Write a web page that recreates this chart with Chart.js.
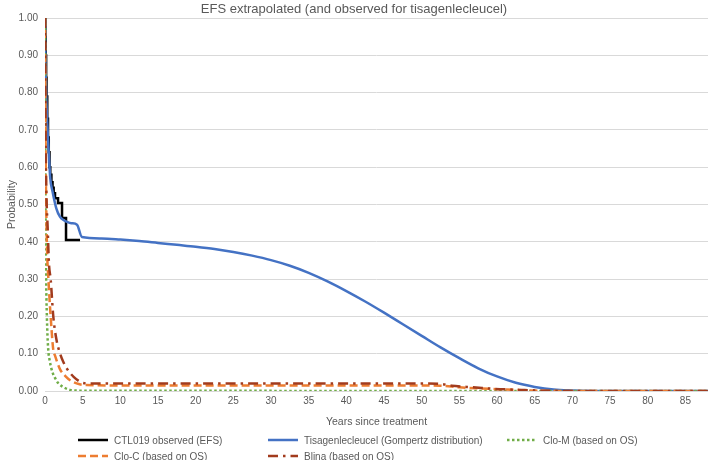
<!DOCTYPE html>
<html>
<head>
<meta charset="utf-8">
<script src="https://cdn.jsdelivr.net/npm/chart.js@4.4.1/dist/chart.umd.min.js"></script>
<style>
	body { margin: 0; background: #fff; }
	#wrap { position: relative; width: 709px; height: 460px; }
	#legend { position: absolute; left: 0; top: 0; width: 709px; height: 460px; pointer-events: none;
		font: 10px "Liberation Sans", Arial, sans-serif; color: #595959; }
	.item { position: absolute; display: flex; align-items: center; white-space: nowrap; }
	.item canvas { margin-right: 6px; }
</style>
</head>
<body>
<div id="wrap">
	<canvas id="efsChart" width="709" height="460"></canvas>
	<div id="legend"></div>
</div>
<script>
// ---- data ----
const seriesLabels = [
	"CTL019 observed (EFS)",
	"Tisagenlecleucel (Gompertz distribution)",
	"Clo-M (based on OS)",
	"Clo-C (based on OS)",
	"Blina (based on OS)"
];

// CTL019 observed KM steps
const ctlYears = [0, 0.05, 0.1, 0.15, 0.2, 0.3, 0.4, 0.5, 0.6, 0.7, 0.85, 1.0, 1.15, 1.33, 1.73, 2.26, 2.79, 4.65];
const ctlProb = [1, 0.95, 0.9, 0.84, 0.79, 0.73, 0.68, 0.64, 0.6, 0.58, 0.56, 0.545, 0.53, 0.517, 0.504, 0.464, 0.405, 0.405];

// Tisagenlecleucel (Gompertz)
const tisYears = [0, 0.05, 0.15, 0.3, 0.5, 0.7, 1, 1.5, 2, 2.5, 3, 3.5, 4.25, 4.9, 7.5, 10, 12.5, 15, 17.5, 20, 22.5, 25, 27.5, 30, 32.5, 35, 37.5, 40, 42.5, 45, 47.5, 50, 52.5, 55, 57.5, 60, 62.5, 65, 67.5, 70, 72.5, 75, 88];
const tisProb = [1, 0.9, 0.8, 0.72, 0.64, 0.57, 0.535, 0.49, 0.467, 0.458, 0.453, 0.45, 0.446, 0.413, 0.409, 0.406, 0.402, 0.397, 0.392, 0.387, 0.381, 0.373, 0.363, 0.351, 0.336, 0.317, 0.294, 0.268, 0.240, 0.210, 0.179, 0.148, 0.117, 0.088, 0.061, 0.039, 0.022, 0.011, 0.004, 0.0015, 0.0003, 0, 0];

// Clo-M
const cloMYears = [0, 0.03, 0.07, 0.13, 0.25, 0.4, 0.66, 1.0, 1.33, 1.8, 2.65, 3.3, 4.5, 88];
const cloMProb = [1, 0.75, 0.5, 0.33, 0.2, 0.12, 0.078, 0.05, 0.035, 0.02, 0.008, 0.003, 0.001, 0];

// Clo-C
const cloCYears = [0, 0.05, 0.1, 0.2, 0.3, 0.45, 0.75, 1.1, 1.33, 2.0, 2.7, 3.4, 4.6, 5.5, 10, 20, 30, 40, 50, 52.5, 55, 57.5, 60, 62.5, 65, 70, 88];
const cloCProb = [1, 0.75, 0.6, 0.45, 0.36, 0.3, 0.2, 0.11, 0.095, 0.058, 0.04, 0.028, 0.018, 0.016, 0.015, 0.015, 0.015, 0.015, 0.015, 0.014, 0.01, 0.007, 0.005, 0.003, 0.001, 0, 0];

// Blina
const blinaYears = [0, 0.05, 0.1, 0.2, 0.35, 0.53, 0.75, 1.1, 1.5, 2.0, 2.5, 2.9, 3.8, 5.0, 6, 10, 20, 30, 40, 50, 52.5, 54, 56, 58, 60.4, 63, 66, 70, 88];
const blinaProb = [1, 0.8, 0.65, 0.52, 0.44, 0.34, 0.3, 0.2, 0.14, 0.1, 0.075, 0.06, 0.038, 0.022, 0.02, 0.02, 0.02, 0.02, 0.02, 0.02, 0.019, 0.014, 0.011, 0.008, 0.005, 0.003, 0.001, 0, 0];

const yearTicks = [0, 5, 10, 15, 20, 25, 30, 35, 40, 45, 50, 55, 60, 65, 70, 75, 80, 85];

// ---- helpers ----
function toPoints(xs, ys) {
	return xs.map((x, i) => ({ x: x, y: ys[i] }));
}

const FONT = "'Liberation Sans', Arial, sans-serif";
const GREY = "#595959";

const ctx = document.getElementById("efsChart");

window.efsChart = new Chart(ctx, {
	type: "line",
	data: {
		datasets: [
			{
				label: seriesLabels[0],
				data: toPoints(ctlYears, ctlProb),
				borderColor: "#000000",
				borderWidth: 2.5,
				stepped: true,
				order: 5
			},
			{
				label: seriesLabels[1],
				data: toPoints(tisYears, tisProb),
				borderColor: "#4472C4",
				borderWidth: 2.5,
				cubicInterpolationMode: "monotone",
				order: 4
			},
			{
				label: seriesLabels[2],
				data: toPoints(cloMYears, cloMProb),
				borderColor: "#70AD47",
				borderWidth: 2.5,
				borderDash: [2.5, 2.5],
				cubicInterpolationMode: "monotone",
				order: 3
			},
			{
				label: seriesLabels[3],
				data: toPoints(cloCYears, cloCProb),
				borderColor: "#ED7D31",
				borderWidth: 2.5,
				borderDash: [8, 4],
				cubicInterpolationMode: "monotone",
				order: 2
			},
			{
				label: seriesLabels[4],
				data: toPoints(blinaYears, blinaProb),
				borderColor: "#A23B1D",
				borderWidth: 2.5,
				borderDash: [10, 5, 2.5, 5],
				cubicInterpolationMode: "monotone",
				order: 1
			}
		]
	},
	options: {
		responsive: false,
		animation: false,
		layout: {
			padding: { left: 0, right: 1, top: 0, bottom: 28 }
		},
		elements: {
			point: { radius: 0 },
			line: { fill: false, tension: 0 }
		},
		plugins: {
			legend: { display: false },
			tooltip: { enabled: false },
			title: {
				display: true,
				text: "EFS extrapolated (and observed for tisagenlecleucel)",
				color: GREY,
				font: { family: FONT, size: 13, weight: "normal" },
				padding: { top: 2, bottom: 0.5 }
			}
		},
		scales: {
			x: {
				type: "linear",
				min: 0,
				max: 88,
				afterBuildTicks: (scale) => {
					scale.ticks = yearTicks.map(v => ({ value: v }));
				},
				afterFit: (scale) => { scale.height = 41; },
				grid: { display: false, drawTicks: false },
				border: { display: false },
				ticks: {
					color: GREY,
					font: { family: FONT, size: 10 },
					padding: 4,
					maxRotation: 0,
					autoSkip: false
				},
				title: {
					display: true,
					text: "Years since treatment",
					color: GREY,
					font: { family: FONT, size: 10.5 },
					padding: { top: 0, bottom: 4 }
				}
			},
			y: {
				min: 0,
				max: 1,
				afterFit: (scale) => { scale.width = 45; },
				grid: { color: "#d9d9d9", lineWidth: 1, drawTicks: false },
				border: { display: false },
				ticks: {
					stepSize: 0.1,
					color: GREY,
					font: { family: FONT, size: 10 },
					padding: 7,
					callback: (v) => Number(v).toFixed(2)
				},
				title: {
					display: true,
					text: "Probability",
					color: GREY,
					font: { family: FONT, size: 10.5 },
					padding: { top: 6, bottom: 0 }
				}
			}
		}
	}
});

/* legend, laid out in a grid like the original */
const legendSlots = [
	{ left: 78, top: 434 },
	{ left: 268, top: 434 },
	{ left: 507, top: 434 },
	{ left: 78, top: 450 },
	{ left: 268, top: 450 }
];

const legendBox = document.getElementById("legend");
window.efsChart.data.datasets.forEach((ds, i) => {
	const item = document.createElement("div");
	item.className = "item";
	item.style.left = legendSlots[i].left + "px";
	item.style.top = legendSlots[i].top + "px";

	const sample = document.createElement("canvas");
	sample.width = 30;
	sample.height = 12;
	const g = sample.getContext("2d");
	g.strokeStyle = ds.borderColor;
	g.lineWidth = ds.borderWidth;
	g.setLineDash(ds.borderDash || []);
	g.beginPath();
	g.moveTo(0, 6);
	g.lineTo(30, 6);
	g.stroke();

	const text = document.createElement("span");
	text.textContent = ds.label;

	item.appendChild(sample);
	item.appendChild(text);
	legendBox.appendChild(item);
});
</script>
</body>
</html>
